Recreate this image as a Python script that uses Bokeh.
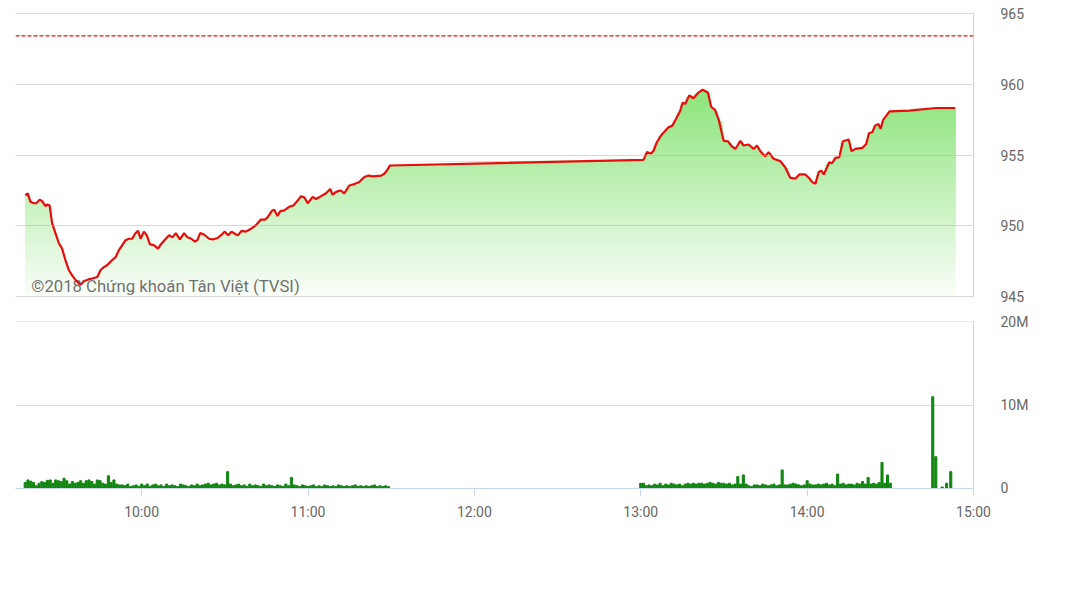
import numpy as np
from bokeh.plotting import figure
from bokeh.layouts import column
from bokeh.models import Range1d, FixedTicker, Span
from bokeh.embed import file_html
from bokeh.resources import INLINE
from bokeh.core.properties import value

# ---------------- data ----------------
# index value: time in minutes after 09:00, value in points
price_t = [18.1, 18.9, 19.9, 21.1, 22.0, 23.2, 24.1, 25.3, 25.9, 26.8,
           27.7, 28.9, 30.1, 31.3, 32.5, 33.7, 35.0, 36.1, 38.0, 39.1,
           41.0, 42.2, 44.0, 45.2, 46.4, 47.6, 49.4, 50.6, 51.8, 53.0,
           54.2, 55.4, 56.6, 57.8, 58.7, 59.6, 60.8, 61.8, 63.0, 64.4,
           65.9, 66.9, 68.7, 69.9, 71.1, 72.3, 73.8, 75.3, 76.5, 77.9,
           79.2, 80.1, 81.1, 82.5, 84.3, 85.6, 87.4, 88.6, 90.0, 91.2,
           92.4, 94.0, 94.8, 96.0, 97.6, 99.4, 101.2, 103.0, 104.5, 105.4,
           106.9, 107.8, 109.0, 110.0, 111.4, 113.2, 114.8, 116.3, 117.5, 118.7,
           119.9, 121.7, 122.9, 124.7, 126.5, 128.0, 128.9, 130.1, 131.7, 133.1,
           134.9, 136.7, 138.5, 140.3, 141.8, 143.4, 146.4, 147.6, 148.8, 149.5,
           241.0, 242.2, 243.7, 244.6, 245.8, 247.3, 248.8, 250.0, 251.4, 252.6,
           254.2, 255.1, 256.0, 257.5, 259.0, 260.8, 262.3, 264.2, 265.4, 266.8,
           268.1, 269.9, 271.4, 272.9, 274.1, 274.9, 275.9, 277.1, 278.9, 280.7,
           281.9, 283.1, 284.9, 286.1, 287.9, 290.3, 292.1, 293.9, 295.7, 297.2,
           299.3, 300.6, 301.8, 303.0, 304.2, 305.1, 306.0, 308.0, 309.0, 310.2,
           311.6, 312.9, 315.0, 316.0, 317.4, 319.9, 321.3, 322.3, 323.5, 324.5,
           325.7, 326.5, 327.4, 328.6, 329.7, 336.8, 346.4, 353.4]
price_v = [952.16, 952.3, 951.7, 951.6, 951.6, 951.85, 951.75, 951.4, 951.5, 951.45,
           950.2, 949.5, 948.8, 948.4, 947.6, 946.9, 946.5, 946.2, 945.85, 946.1,
           946.25, 946.3, 946.4, 946.9, 947.1, 947.25, 947.6, 947.8, 948.3, 948.65,
           949.0, 949.1, 949.1, 949.5, 949.65, 949.1, 949.6, 949.35, 948.7, 948.65,
           948.4, 948.7, 949.1, 949.35, 949.2, 949.5, 949.05, 949.5, 949.2, 949.1,
           948.9, 949.0, 949.5, 949.4, 949.1, 949.05, 949.15, 949.35, 949.6, 949.35,
           949.6, 949.4, 949.35, 949.65, 949.6, 949.8, 950.05, 950.45, 950.45, 950.6,
           951.05, 951.15, 950.7, 951.05, 951.1, 951.35, 951.45, 951.8, 952.1, 952.0,
           951.6, 952.05, 951.9, 952.1, 952.3, 952.6, 952.2, 952.4, 952.5, 952.3,
           952.85, 952.95, 953.1, 953.45, 953.55, 953.5, 953.55, 953.7, 954.0, 954.26,
           954.66, 955.2, 955.1, 955.3, 955.9, 956.37, 956.7, 956.95, 957.07, 957.5,
           958.1, 958.7, 958.6, 959.2, 959.0, 959.4, 959.6, 959.4, 958.4, 958.17,
           957.5, 956.0, 955.97, 955.6, 955.43, 955.67, 956.0, 955.67, 955.74, 955.43,
           955.67, 955.27, 954.9, 955.2, 954.73, 954.57, 954.14, 953.4, 953.33, 953.63,
           953.63, 953.4, 953.09, 952.98, 953.8, 953.9, 953.63, 954.49, 954.42, 954.8,
           954.84, 955.97, 956.09, 955.27, 955.43, 955.5, 955.78, 956.53, 956.6, 957.07,
           957.19, 956.84, 957.47, 957.77, 958.07, 958.12, 958.31, 958.31]
ref_level = 963.4  # dashed reference line

# volume in millions, one bar per minute
vol_am_start = 18    # 09:18
vol_am = [0.7, 1.0, 0.85, 0.7, 0.3, 0.6, 0.8, 0.7, 0.95, 1.0,
          0.6, 1.0, 0.9, 0.8, 1.2, 0.9, 0.5, 0.8, 0.6, 0.7,
          0.9, 0.6, 0.9, 1.0, 0.8, 0.5, 1.0, 0.9, 0.6, 0.5,
          1.5, 0.7, 1.0, 0.5, 0.4, 0.4, 0.3, 0.5, 0.2, 0.3,
          0.4, 0.2,
          0.5, 0.3, 0.5, 0.2, 0.4, 0.5, 0.3, 0.4, 0.2, 0.5,
          0.3, 0.4, 0.3, 0.2, 0.5, 0.4, 0.3, 0.2, 0.4, 0.3,
          0.5, 0.3, 0.4, 0.5, 0.6, 0.4, 0.5, 0.6, 0.4, 0.5,
          0.4, 2.0,
          0.5, 0.3, 0.4, 0.5, 0.3, 0.4, 0.2, 0.5, 0.3, 0.4,
          0.3, 0.2, 0.5, 0.3, 0.4, 0.3, 0.2, 0.4, 0.3, 0.2,
          0.5, 0.3, 1.3,
          0.4, 0.3, 0.2, 0.4, 0.3, 0.2, 0.3, 0.4, 0.2, 0.3,
          0.2, 0.4, 0.3, 0.2, 0.3, 0.2, 0.4, 0.3, 0.2, 0.3,
          0.2, 0.3, 0.4, 0.2, 0.3, 0.2, 0.3, 0.2, 0.3, 0.4,
          0.2, 0.3, 0.2, 0.3, 0.2]
vol_pm_start = 240   # 13:00
vol_pm = [0.6, 0.6, 0.3, 0.4, 0.3, 0.5, 0.4, 0.6, 0.3, 0.5,
          0.4, 0.6, 0.5, 0.4, 0.5, 0.3, 0.5, 0.6, 0.5, 0.6,
          0.5, 0.6, 0.6, 0.5, 0.6, 0.7, 0.6, 0.5, 0.7, 0.6,
          0.6, 0.5, 0.6, 0.4, 0.5,
          1.4, 0.5, 1.6, 0.5, 0.3, 0.2, 0.4, 0.4, 0.3, 0.5,
          0.4, 0.3, 0.4, 0.5, 0.3, 0.4,
          2.2,
          0.4, 0.4, 0.5, 0.6, 0.5, 0.4, 0.3, 0.4,
          0.9,
          0.5, 0.4, 0.4, 0.5, 0.4, 0.5, 0.6, 0.4, 0.5, 0.3,
          1.7,
          0.5, 0.6, 0.4, 0.5, 0.5, 0.4, 0.6, 0.5, 0.8, 0.5,
          1.3,
          0.5, 0.6, 0.5, 0.7, 3.1, 0.6, 1.6, 0.6]
vol_atc_t = [345.3, 346.4, 348.7, 350.3, 351.8]
vol_atc = [11.0, 3.8, 0.15, 0.6, 2.0]

price_ticks = [945, 950, 955, 960, 965]
vol_ticks = [0, 10, 20]
vol_tick_labels = ["0", "10M", "20M"]
time_ticks = [60, 120, 180, 240, 300, 360]
time_labels = ["10:00", "11:00", "12:00", "13:00", "14:00", "15:00"]
watermark = "©2018 Chứng khoán Tân Việt (TVSI)"

# ---------------- style ----------------
FONT = "Roboto"
LABEL_COLOR = "#666666"
GRID_COLOR = "#b4b4b4"
AXIS_COLOR = "#ccd6eb"
W = 1059
XR = (14.5, 360)

# ---------------- price chart ----------------
p1 = figure(width=W, height=305, x_range=Range1d(*XR), y_range=Range1d(944.96, 965.04),
            output_backend="svg", toolbar_location=None,
            x_axis_location=None, y_axis_location="right",
            min_border_left=15, min_border_right=86, min_border_top=12, min_border_bottom=8)
p1.outline_line_color = None
p1.background_fill_color = "white"
p1.border_fill_color = "white"
p1.xgrid.visible = False
p1.ygrid.ticker = FixedTicker(ticks=price_ticks)
p1.ygrid.grid_line_color = GRID_COLOR
p1.ygrid.grid_line_alpha = 0.5
p1.ygrid.level = "overlay"
ax = p1.yaxis[0]
ax.ticker = FixedTicker(ticks=price_ticks)
ax.axis_line_color = AXIS_COLOR
ax.major_tick_line_color = None
ax.minor_tick_line_color = None
ax.major_label_standoff = 21
ax.major_label_text_color = LABEL_COLOR
ax.major_label_text_font = FONT
ax.major_label_text_font_size = "14px"

# gradient fill under the line (stacked bands, bottom to top)
pv = np.array(price_v)
n_bands = 60
bottom_rgb = np.array([250, 254, 249])
top_rgb = np.array([138, 228, 120])
for i in range(n_bands):
    lo = 945 + i * 15.0 / n_bands
    f = i / (n_bands - 1)
    r, g, b = (bottom_rgb + f * (top_rgb - bottom_rgb)).astype(int)
    col = "#%02x%02x%02x" % (r, g, b)
    p1.varea(x=price_t, y1=lo, y2=np.maximum(pv, lo), fill_color=col, fill_alpha=1.0)

p1.text(x=[20.2], y=[945.7], text=[watermark], text_font=value(FONT),
        text_font_size="16.7px", text_color="#555555", text_alpha=0.85,
        text_baseline="alphabetic", text_align="left")

p1.line(price_t, price_v, line_color="#e80c0c", line_width=2.2)
p1.add_layout(Span(location=ref_level, dimension="width", line_color="#e81010",
                   line_width=1.3, line_dash="4 2"))

# ---------------- volume chart ----------------
p2 = figure(width=W, height=223, x_range=p1.x_range, y_range=Range1d(-0.03, 20.06),
            output_backend="svg", toolbar_location=None,
            y_axis_location="right",
            min_border_left=15, min_border_right=86, min_border_top=16, min_border_bottom=40)
p2.outline_line_color = None
p2.xgrid.visible = False
p2.ygrid.ticker = FixedTicker(ticks=vol_ticks)
p2.ygrid.grid_line_color = GRID_COLOR
p2.ygrid.grid_line_alpha = 0.5
ay = p2.yaxis[0]
ay.ticker = FixedTicker(ticks=vol_ticks)
ay.major_label_overrides = {t: l for t, l in zip(vol_ticks, vol_tick_labels)}
ay.axis_line_color = AXIS_COLOR
ay.major_tick_line_color = None
ay.minor_tick_line_color = None
ay.major_label_standoff = 21
ay.major_label_text_color = LABEL_COLOR
ay.major_label_text_font = FONT
ay.major_label_text_font_size = "14px"
axx = p2.xaxis[0]
axx.ticker = FixedTicker(ticks=time_ticks)
axx.major_label_overrides = {t: l for t, l in zip(time_ticks, time_labels)}
axx.axis_line_color = AXIS_COLOR
axx.major_tick_line_color = AXIS_COLOR
axx.major_tick_in = 0
axx.major_tick_out = 8
axx.minor_tick_line_color = None
axx.major_label_standoff = 7
axx.major_label_text_color = LABEL_COLOR
axx.major_label_text_font = FONT
axx.major_label_text_font_size = "14px"

am_t = [vol_am_start + i for i in range(len(vol_am))]
pm_t = [vol_pm_start + i for i in range(len(vol_pm))]
BAR = "#10850f"
p2.vbar(x=am_t, top=vol_am, width=0.75, color=BAR)
p2.vbar(x=pm_t, top=vol_pm, width=0.75, color=BAR)
p2.vbar(x=vol_atc_t, top=vol_atc, width=0.75, color=BAR)

layout = column(p1, p2, spacing=0)
open("out.html", "w").write(file_html(layout, INLINE))
